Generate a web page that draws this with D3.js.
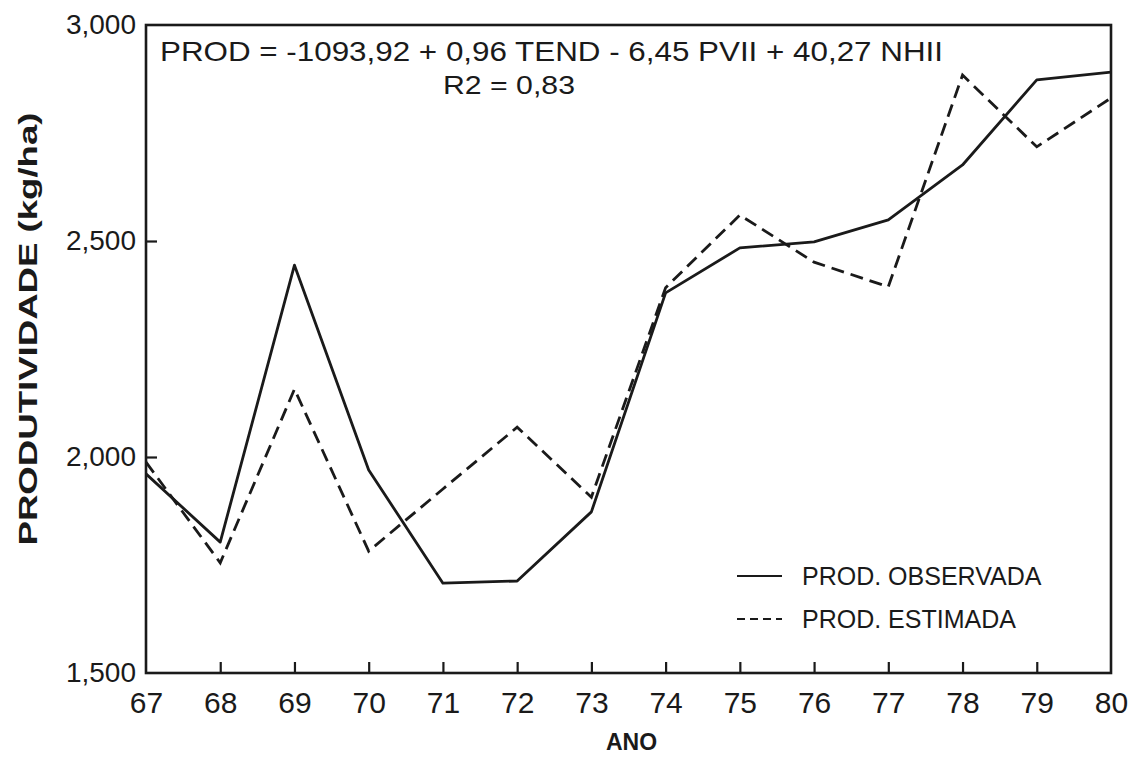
<!DOCTYPE html>
<html>
<head>
<meta charset="utf-8">
<script src="https://cdn.jsdelivr.net/npm/d3@7"></script>
<style>
  html, body { margin: 0; padding: 0; background: #ffffff; }
  svg { display: block; }
  text { font-family: "Liberation Sans", Arial, sans-serif; fill: #1a1a1a; }
</style>
</head>
<body>
<svg id="chart" width="1134" height="757"></svg>
<script>
// ---- Data ----
const years = [67, 68, 69, 70, 71, 72, 73, 74, 75, 76, 77, 78, 79, 80];
const observada = [1961, 1803, 2444, 1970, 1708, 1713, 1873, 2380, 2484, 2498, 2549, 2676, 2873, 2891];
const estimada  = [1988, 1755, 2157, 1782, 1926, 2069, 1907, 2392, 2560, 2451, 2394, 2884, 2718, 2831];
const yTicks = [1500, 2000, 2500, 3000];
const yTickLabels = ["1,500", "2,000", "2,500", "3,000"];
const xTickLabels = ["67", "68", "69", "70", "71", "72", "73", "74", "75", "76", "77", "78", "79", "80"];
const seriesNames = ["PROD. OBSERVADA", "PROD. ESTIMADA"];
const equation = "PROD = -1093,92 + 0,96 TEND - 6,45 PVII + 40,27 NHII";
const r2Text = "R2 = 0,83";
const xTitle = "ANO";
const yTitle = "PRODUTIVIDADE (kg/ha)";

(function () {
// ---- Layout ----
const svg = d3.select("#chart");
const pLeft = 146, pRight = 1111, pTop = 25, pBottom = 673;
const ink = "#1a1a1a";

const x = d3.scaleLinear().domain([67, 80]).range([pLeft, pRight]);
const y = d3.scaleLinear().domain([1500, 3000]).range([pBottom, pTop]);

// Frame
svg.append("rect")
  .attr("x", pLeft).attr("y", pTop)
  .attr("width", pRight - pLeft).attr("height", pBottom - pTop)
  .attr("fill", "none").attr("stroke", ink).attr("stroke-width", 2.6);

// X axis (ticks inward)
const xAxis = d3.axisBottom(x)
  .tickValues(years)
  .tickSize(0)
  .tickPadding(0)
  .tickFormat((d, i) => xTickLabels[i]);
const gx = svg.append("g").attr("transform", `translate(0,${pBottom})`).call(xAxis);
gx.select(".domain").remove();
gx.selectAll(".tick text")
  .attr("y", 40)
  .attr("dy", 0)
  .style("font-size", "30px")
  .style("font-family", "'Liberation Sans', Arial, sans-serif")
  .attr("fill", ink);
gx.selectAll(".tick")
  .filter(d => d !== 67 && d !== 80)
  .append("line")
  .attr("y1", 0).attr("y2", -11)
  .attr("stroke", ink).attr("stroke-width", 2.2);

// Y axis (ticks inward)
const yAxis = d3.axisLeft(y)
  .tickValues(yTicks)
  .tickSize(0)
  .tickPadding(10)
  .tickFormat((d, i) => yTickLabels[i]);
const gy = svg.append("g").attr("transform", `translate(${pLeft},0)`).call(yAxis);
gy.select(".domain").remove();
gy.selectAll(".tick text")
  .style("font-size", "28px")
  .style("font-family", "'Liberation Sans', Arial, sans-serif")
  .attr("fill", ink);
gy.selectAll(".tick")
  .filter(d => d !== 1500 && d !== 3000)
  .append("line")
  .attr("x1", 0).attr("x2", 11)
  .attr("stroke", ink).attr("stroke-width", 2.2);

// Lines
const line = d3.line().x((d, i) => x(years[i])).y(d => y(d));
svg.append("path")
  .datum(observada)
  .attr("d", line)
  .attr("fill", "none").attr("stroke", ink).attr("stroke-width", 2.8)
  .attr("stroke-linejoin", "round");
svg.append("path")
  .datum(estimada)
  .attr("d", line)
  .attr("fill", "none").attr("stroke", ink).attr("stroke-width", 2.8)
  .attr("stroke-dasharray", "13,7");

// Equation text
svg.append("text")
  .attr("x", 160).attr("y", 61)
  .attr("textLength", 783).attr("lengthAdjust", "spacingAndGlyphs")
  .style("font-size", "28px")
  .text(equation);
svg.append("text")
  .attr("x", 443).attr("y", 94)
  .attr("textLength", 132).attr("lengthAdjust", "spacingAndGlyphs")
  .style("font-size", "26px")
  .text(r2Text);

// Legend
const legend = svg.append("g");
const legendRows = [
  { name: seriesNames[0], dash: null, yy: 576 },
  { name: seriesNames[1], dash: "8,5", yy: 619 }
];
legendRows.forEach(r => {
  legend.append("line")
    .attr("x1", 737).attr("x2", 782)
    .attr("y1", r.yy).attr("y2", r.yy)
    .attr("stroke", ink).attr("stroke-width", 2.2)
    .attr("stroke-dasharray", r.dash);
  legend.append("text")
    .attr("x", 802).attr("y", r.yy + 9)
    .style("font-size", "25px")
    .text(r.name);
});

// Axis titles
svg.append("text")
  .attr("x", (pLeft + pRight) / 2 + 3).attr("y", 750)
  .attr("text-anchor", "middle")
  .style("font-size", "23px").style("font-weight", "bold")
  .text(xTitle);
svg.append("text")
  .attr("transform", `translate(37,329) rotate(-90)`)
  .attr("text-anchor", "middle")
  .attr("textLength", 433).attr("lengthAdjust", "spacingAndGlyphs")
  .style("font-size", "25px").style("font-weight", "bold")
  .text(yTitle);
})();
</script>
</body>
</html>
